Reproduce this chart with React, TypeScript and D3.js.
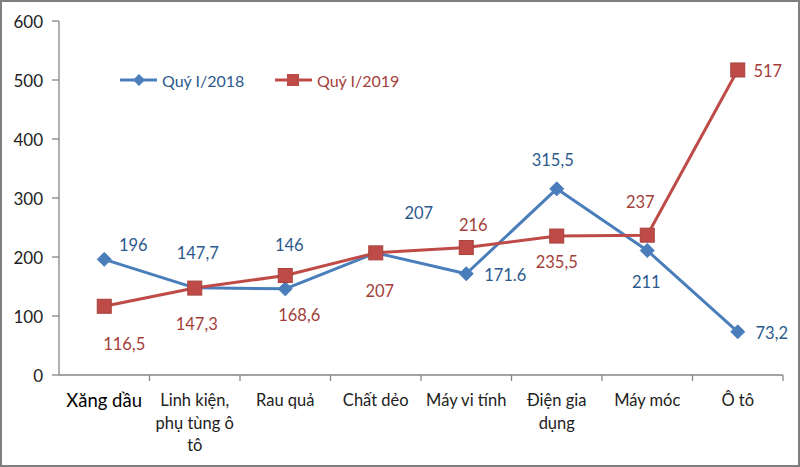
import React from "react";
import * as d3 from "d3";

const categories = ["Xăng dầu", "Linh kiện,\nphụ tùng ô\ntô", "Rau quả", "Chất dẻo", "Máy vi tính", "Điện gia\ndụng", "Máy móc", "Ô tô"];
const series2018 = [196, 147.7, 146, 207, 171.6, 315.5, 211, 73.2];
const labels2018 = ["196", "147,7", "146", "207", "171.6", "315,5", "211", "73,2"];
const series2019 = [116.5, 147.3, 168.6, 207, 216, 235.5, 237, 517];
const labels2019 = ["116,5", "147,3", "168,6", "207", "216", "235,5", "237", "517"];
const yTicks = [0, 100, 200, 300, 400, 500, 600];
const seriesNames = ["Quý I/2018", "Quý I/2019"];

// label placement offsets (presentation only)
const off2018: [number, number][] = [[29, -14], [3, -35], [4, -44], [43, -40], [39, 1], [-4, -29], [-1, 31], [34, 1]];
const off2019: [number, number][] = [[20, 38], [2, 36], [14, 39], [4, 38], [7, -23], [0, 26], [-7, -33], [30, 1]];

const W = 800, H = 467;
const BLUE = "#4A7EBB", RED = "#BE4B48";
const BLUE_T = "#2C5A8C", RED_T = "#A33E3A";
const FONT = "Lato, 'Open Sans', sans-serif";

export default function App() {
  const x = d3.scaleBand<string>().domain(categories).range([59, 783]).padding(0);
  const y = d3.scaleLinear().domain([0, 600]).range([375, 21]);
  const cx = (i: number) => (x(categories[i]) as number) + x.bandwidth() / 2;
  const line = d3.line<number>().x((_, i) => cx(i)).y((d) => y(d));
  const diamond = (px: number, py: number, r = 7) => `M${px},${py - r}L${px + r},${py}L${px},${py + r}L${px - r},${py}Z`;

  return (
    <div style={{ position: "fixed", left: 0, top: 0 }}>
      <svg width={W} height={H} style={{ display: "block", fontFamily: FONT }}>
        <rect x={0} y={0} width={W} height={H} fill="#fff" />
        <rect x={1} y={1} width={W - 2} height={H - 2} fill="none" stroke="#7f7f7f" strokeWidth={2} />
        {/* y axis */}
        <line x1={59} x2={59} y1={y(600)} y2={y(0)} stroke="#868686" strokeWidth={1.3} />
        {yTicks.map((t) => (
          <g key={t}>
            <line x1={52} x2={59} y1={y(t)} y2={y(t)} stroke="#868686" strokeWidth={1.3} />
            <text x={43} y={y(t)} textAnchor="end" dominantBaseline="central" fontSize={17} fill="#222">{t}</text>
          </g>
        ))}
        {/* x axis */}
        <line x1={59} x2={783} y1={y(0)} y2={y(0)} stroke="#868686" strokeWidth={1.3} />
        {categories.map((c, i) => (
          <line key={"t" + i} x1={(x(c) as number) + x.bandwidth()} x2={(x(c) as number) + x.bandwidth()} y1={y(0)} y2={y(0) + 6} stroke="#868686" strokeWidth={1.3} />
        ))}
        {categories.map((c, i) => (
          <text key={"c" + i} x={cx(i)} textAnchor="middle" fontSize={i === 0 ? 18.5 : 16.5} fill={i === 0 ? "#000" : "#222"}>
            {c.split("\n").map((l, j) => (
              <tspan key={j} x={cx(i)} y={400 + j * 22.5} dominantBaseline="central">{l}</tspan>
            ))}
          </text>
        ))}
        {/* lines */}
        <path d={line(series2018) || ""} fill="none" stroke={BLUE} strokeWidth={3} strokeLinejoin="round" />
        <path d={line(series2019) || ""} fill="none" stroke={RED} strokeWidth={3} strokeLinejoin="round" />
        {series2018.map((v, i) => (
          <path key={"d" + i} d={diamond(cx(i), y(v))} fill={BLUE} stroke={BLUE} strokeWidth={1} />
        ))}
        {series2019.map((v, i) => (
          <rect key={"s" + i} x={cx(i) - 7} y={y(v) - 7} width={14} height={14} fill={RED} stroke="#a8403d" strokeWidth={1} />
        ))}
        {series2018.map((v, i) => (
          <text key={"l18" + i} x={cx(i) + off2018[i][0]} y={y(v) + off2018[i][1]} textAnchor="middle" dominantBaseline="central" fontSize={16.5} fill={BLUE_T}>{labels2018[i]}</text>
        ))}
        {series2019.map((v, i) => (
          <text key={"l19" + i} x={cx(i) + off2019[i][0]} y={y(v) + off2019[i][1]} textAnchor="middle" dominantBaseline="central" fontSize={16.5} fill={RED_T}>{labels2019[i]}</text>
        ))}
        {/* legend */}
        <line x1={120} x2={157} y1={80} y2={80} stroke={BLUE} strokeWidth={3} />
        <path d={diamond(139, 80, 6)} fill={BLUE} />
        <text x={162} y={80} dominantBaseline="central" fontSize={16} fill={BLUE_T}>{seriesNames[0]}</text>
        <line x1={275} x2={312} y1={80} y2={80} stroke={RED} strokeWidth={3} />
        <rect x={287} y={74} width={12} height={12} fill={RED} />
        <text x={317} y={80} dominantBaseline="central" fontSize={16} fill={RED_T}>{seriesNames[1]}</text>
      </svg>
    </div>
  );
}
